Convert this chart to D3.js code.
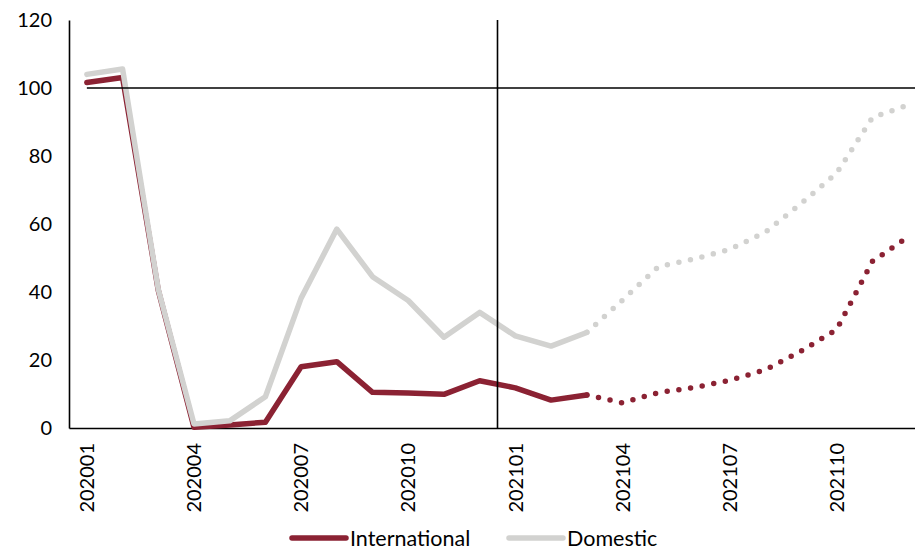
<!DOCTYPE html>
<html>
<head>
<meta charset="utf-8">
<script src="https://cdn.jsdelivr.net/npm/d3@7"></script>
<style>
  html, body { margin: 0; padding: 0; background: #fff; }
  svg { display: block; font-family: Lato, "Open Sans", sans-serif; }
</style>
</head>
<body>
<svg id="chart" width="915" height="550"></svg>
<script>
// Monthly index, Jan 2020 = ~100; values after lastActual are projections
const months = ["202001","202002","202003","202004","202005","202006","202007","202008","202009","202010","202011","202012",
                "202101","202102","202103","202104","202105","202106","202107","202108","202109","202110","202111","202112"];
const international = [101.6, 103.1, 40.5, 0.2, 0.9, 1.7, 18.0, 19.5, 10.5, 10.3, 9.9, 13.9,
                       11.8, 8.2, 9.7, 7.4, 10.4, 11.9, 14.0, 17.1, 22.6, 29.0, 49.0, 56.2];
const domestic = [104.0, 105.6, 40.8, 1.2, 2.1, 9.2, 38.2, 58.5, 44.5, 37.5, 26.7, 34.0,
                  27.1, 24.1, 28.1, 37.6, 47.4, 49.7, 52.5, 57.6, 66.0, 75.0, 91.3, 95.0];
const lastActual = "202103";
const yTicks = [0, 20, 40, 60, 80, 100, 120];
const xTickLabels = ["202001","202004","202007","202010","202101","202104","202107","202110"];
const baseline = 100;
const yearBreak = "202101";
const seriesNames = ["International", "Domestic"];
const seriesColors = ["#8b2233", "#d2d2d0"];

const svg = d3.select("#chart");
const plotLeft = 69, plotRight = 926, plotTop = 20, plotBottom = 428;

const x = d3.scaleBand().domain(months).range([plotLeft, plotRight]).paddingInner(0).paddingOuter(0);
const xc = m => x(m) + x.bandwidth() / 2;
const y = d3.scaleLinear().domain([0, 120]).range([plotBottom, plotTop]);

// Axes
const yAxis = d3.axisLeft(y).tickValues(yTicks).tickSize(0).tickPadding(17);
const gy = svg.append("g").attr("transform", `translate(${plotLeft},0)`).call(yAxis);
gy.select(".domain").attr("stroke", "#000").attr("stroke-width", 1.6);
gy.selectAll("text").attr("font-size", 20).attr("fill", "#000")
  .attr("font-family", "Lato, sans-serif");

const xAxis = d3.axisBottom(x).tickValues(xTickLabels).tickSize(0).tickPadding(0);
const gx = svg.append("g").attr("transform", `translate(0,${plotBottom})`).call(xAxis);
gx.select(".domain").attr("stroke", "#000").attr("stroke-width", 1.6);
gx.selectAll("text")
  .attr("font-size", 20).attr("fill", "#000").attr("font-family", "Lato, sans-serif")
  .attr("text-anchor", "end")
  .attr("transform", "translate(0,15) rotate(-90)")
  .attr("x", 0).attr("y", 0).attr("dy", "0.36em");

// Series lines: solid for actuals, dotted for projections
const split = months.indexOf(lastActual);
const line = d3.line().x(d => xc(d.m)).y(d => y(d.v));
[international, domestic].forEach((vals, k) => {
  const pts = months.map((m, i) => ({ m, v: vals[i] }));
  svg.append("path")
    .attr("d", line(pts.slice(0, split + 1)))
    .attr("fill", "none").attr("stroke", seriesColors[k])
    .attr("stroke-width", 5.5).attr("stroke-linejoin", "round").attr("stroke-linecap", "round");
  svg.append("path")
    .attr("d", line(pts.slice(split)))
    .attr("fill", "none").attr("stroke", seriesColors[k])
    .attr("stroke-width", 5.5).attr("stroke-linecap", "round")
    .attr("stroke-dasharray", "0 11.8").attr("stroke-dashoffset", -12);
});

// Reference lines: 100 baseline and the 2020/2021 divider
svg.append("line")
  .attr("x1", xc(months[0])).attr("x2", plotRight)
  .attr("y1", y(baseline)).attr("y2", y(baseline))
  .attr("stroke", "#000").attr("stroke-width", 1.6);
svg.append("line")
  .attr("x1", x(yearBreak)).attr("x2", x(yearBreak))
  .attr("y1", plotTop).attr("y2", plotBottom)
  .attr("stroke", "#000").attr("stroke-width", 1.6);

// Legend
const legendX = [292, 509];
seriesNames.forEach((name, k) => {
  const g = svg.append("g").attr("transform", `translate(${legendX[k]},538)`);
  g.append("line").attr("x1", 0).attr("x2", 54).attr("y1", 0).attr("y2", 0)
    .attr("stroke", seriesColors[k]).attr("stroke-width", 5.5).attr("stroke-linecap", "round");
  g.append("text").attr("x", 58).attr("y", 0).attr("dy", "0.35em")
    .attr("font-size", 21.5).attr("fill", "#000").text(name);
});
</script>
</body>
</html>
